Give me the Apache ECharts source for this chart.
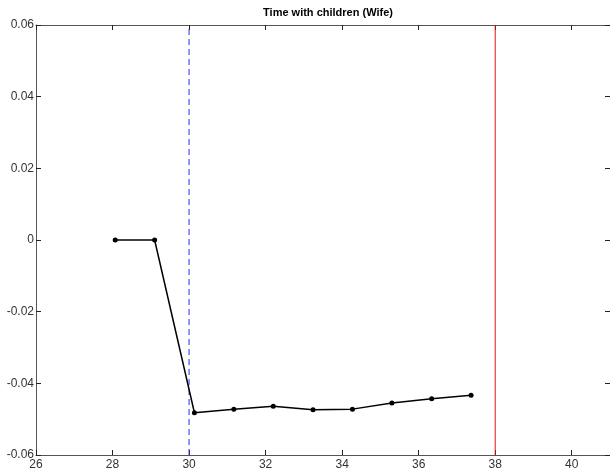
<!DOCTYPE html>
<html><head><meta charset="utf-8">
<script src="https://cdn.jsdelivr.net/npm/echarts@6/dist/echarts.min.js"></script>
<style>html,body{margin:0;padding:0;background:#fff}#c{width:610px;height:474px}</style>
</head><body><div id="c"></div>
<script>
var xVals = [28.07, 29.1, 30.14, 31.17, 32.2, 33.24, 34.27, 35.3, 36.34, 37.37];
var yVals = [0, 0, -0.0482, -0.0472, -0.0464, -0.0474, -0.0472, -0.0455, -0.0443, -0.0433];
var blueLineX = 30;
var redLineX = 38;
var yRange = [-0.06, 0.06];
var xTicks = [26, 28, 30, 32, 34, 36, 38, 40];

var chart = echarts.init(document.getElementById('c'));
var axisCol = '#555';
var lblStyle = {color: '#333', fontFamily: 'Liberation Sans, Arial, sans-serif', fontSize: 12};
function yFmt(v){ if (Math.abs(v) < 1e-9) return '0'; return v.toFixed(2); }
function vline(x){ return yRange.map(function(y){ return [x, y]; }); }
chart.setOption({
  animation: false,
  title: {text: 'Time with children (Wife)', left: 323, top: 2, textAlign: 'center',
    textStyle: {fontSize: 11, fontWeight: 'bold', color: '#000', fontFamily: 'Liberation Sans, Arial, sans-serif'}},
  grid: {left: 36, top: 25, width: 577, height: 430, containLabel: false},
  xAxis: [{
    type: 'value', min: 26, max: 41, interval: 2, position: 'bottom',
    axisLine: {show: true, onZero: false, lineStyle: {color: axisCol, width: 1}},
    axisTick: {show: true, inside: true, length: 5, lineStyle: {color: '#222'}},
    axisLabel: Object.assign({margin: 4, customValues: xTicks, formatter: function(v){return String(v);}}, lblStyle),
    splitLine: {show: false}
  },{
    type: 'value', min: 26, max: 41, interval: 2, position: 'top',
    axisLine: {show: true, onZero: false, lineStyle: {color: axisCol, width: 1}},
    axisTick: {show: true, inside: true, length: 5, lineStyle: {color: '#222'}},
    axisLabel: {show: false}, splitLine: {show: false}
  }],
  yAxis: [{
    type: 'value', min: -0.06, max: 0.06, interval: 0.02, position: 'left',
    axisLine: {show: true, onZero: false, lineStyle: {color: axisCol, width: 1}},
    axisTick: {show: true, inside: true, length: 5, lineStyle: {color: '#222'}},
    axisLabel: Object.assign({margin: 2, formatter: yFmt}, lblStyle),
    splitLine: {show: false}
  },{
    type: 'value', min: -0.06, max: 0.06, interval: 0.02, position: 'right',
    axisLine: {show: true, onZero: false, lineStyle: {color: axisCol, width: 1}},
    axisTick: {show: true, inside: true, length: 5, lineStyle: {color: '#222'}},
    axisLabel: {show: false}, splitLine: {show: false}
  }],
  series: [{
    type: 'line', data: vline(blueLineX), symbol: 'none', silent: true,
    lineStyle: {color: '#2a2af0', type: [6, 4], width: 1}, z: 3
  },{
    type: 'line', data: vline(redLineX), symbol: 'none', silent: true,
    lineStyle: {color: '#e01010', type: 'solid', width: 1}, z: 3
  },{
    type: 'line',
    data: xVals.map(function(x, i){ return [x, yVals[i]]; }),
    symbol: 'circle', symbolSize: 5,
    lineStyle: {color: '#000', width: 1.5},
    itemStyle: {color: '#000'},
    z: 5
  }]
});
</script></body></html>
